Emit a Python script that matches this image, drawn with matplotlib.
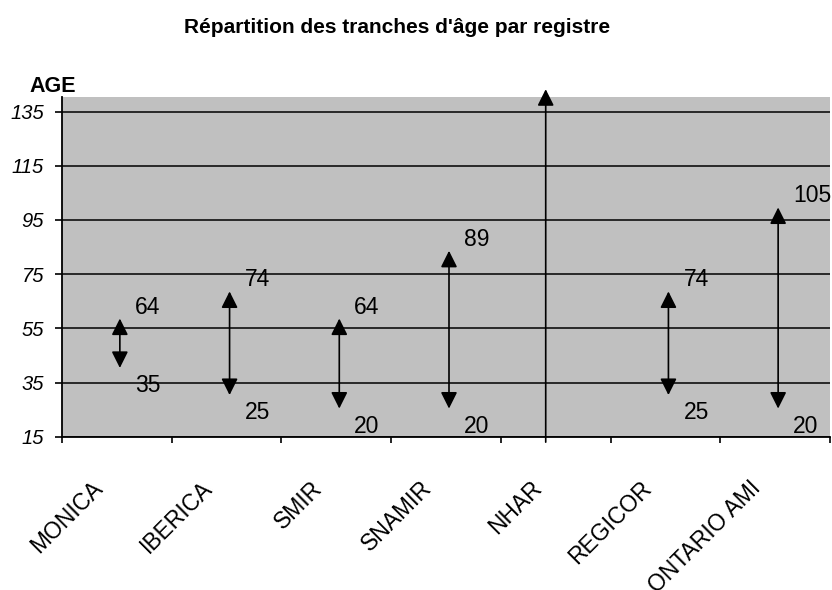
import matplotlib
matplotlib.use("Agg")
import matplotlib.pyplot as plt
import matplotlib.transforms as mtransforms
from matplotlib import font_manager

# Registries and their age ranges (None = no age limits)
registres = ["MONICA", "IBERICA", "SMIR", "SNAMIR", "NHAR", "REGICOR", "ONTARIO AMI"]
age_min = [35, 25, 20, 20, None, 25, 20]
age_max = [64, 74, 64, 89, None, 74, 105]

y_ticks = [15, 35, 55, 75, 95, 115, 135]
titre = "Répartition des tranches d'âge par registre"
titre_axe = "AGE"

plt.rcParams["font.family"] = ["Liberation Sans", "DejaVu Sans"]
available = {f.name for f in font_manager.fontManager.ttflist}
narrow = "Liberation Sans Narrow" if "Liberation Sans Narrow" in available else "Liberation Sans"

W, H = 832, 590
fig = plt.figure(figsize=(W / 100, H / 100), dpi=100)
ax = fig.add_axes([62 / W, 1 - 436.7 / H, (830 - 62) / W, (436.7 - 96.7) / H])
ax.set_facecolor("#C0C0C0")

n = len(registres)
ax.set_xlim(-0.5, n - 0.5)
ax.set_ylim(15, 140.5)

# axes frame: only left and bottom lines
for side in ("top", "right"):
    ax.spines[side].set_visible(False)
for side in ("left", "bottom"):
    ax.spines[side].set_linewidth(1.3)
    ax.spines[side].set_color("black")

ax.set_yticks(y_ticks)
ax.set_yticklabels([str(v) for v in y_ticks], fontsize=14.5, fontstyle="italic")
ax.tick_params(axis="y", length=5, width=1.2, pad=8, direction="out")
ax.set_xticks([i - 0.5 for i in range(n + 1)])
ax.set_xticklabels([])
ax.tick_params(axis="x", length=4.5, width=1.2, direction="out")
ax.yaxis.grid(True, color="black", linewidth=1.1)
ax.set_axisbelow(True)

# category labels, rotated
xform = ax.get_xaxis_transform()
off = mtransforms.ScaledTranslation(-26 / 100, -40 / 100, fig.dpi_scale_trans)
for i, name in enumerate(registres):
    ax.text(i, 0, name, transform=xform + off, rotation=45, rotation_mode="anchor",
            ha="right", va="top", fontsize=16.5, family=[narrow, "DejaVu Sans"],
            clip_on=False)

arrow_style = "<|-|>,head_length=0.5,head_width=0.25"
shift = mtransforms.ScaledTranslation(3 / 100, 0, fig.dpi_scale_trans)
for i, (lo, hi) in enumerate(zip(age_min, age_max)):
    if lo is None or hi is None:
        # open range: line over the full height with a head above the plot
        nudge = mtransforms.ScaledTranslation(-10 / 100, 0, fig.dpi_scale_trans)
        ax.annotate("", xy=(i, 1.022), xytext=(i, -0.016), xycoords=xform + nudge,
                    textcoords=xform + nudge, annotation_clip=False,
                    arrowprops=dict(arrowstyle="-|>,head_length=0.5,head_width=0.25",
                                    mutation_scale=20, color="black", lw=1.2,
                                    shrinkA=0, shrinkB=0))
        continue
    ax.annotate("", xy=(i, hi), xytext=(i, lo),
                xycoords=ax.transData + shift, textcoords=ax.transData + shift,
                arrowprops=dict(arrowstyle=arrow_style, mutation_scale=20,
                                color="black", lw=1.2, shrinkA=10.5, shrinkB=10.5))
    for v in (lo, hi):
        ax.annotate(str(v), xy=(i, v), xytext=(13, -2.2), textcoords="offset points",
                    ha="left", va="center", fontsize=16.5, annotation_clip=False)

fig.text(397 / W, 1 - 33 / H, titre, ha="center", va="baseline",
         fontsize=15, fontweight="bold")
fig.text(29 / W, 1 - 92 / H, titre_axe, ha="left", va="baseline",
         fontsize=15.5, fontweight="bold")

fig.savefig("out.png", dpi=100)
